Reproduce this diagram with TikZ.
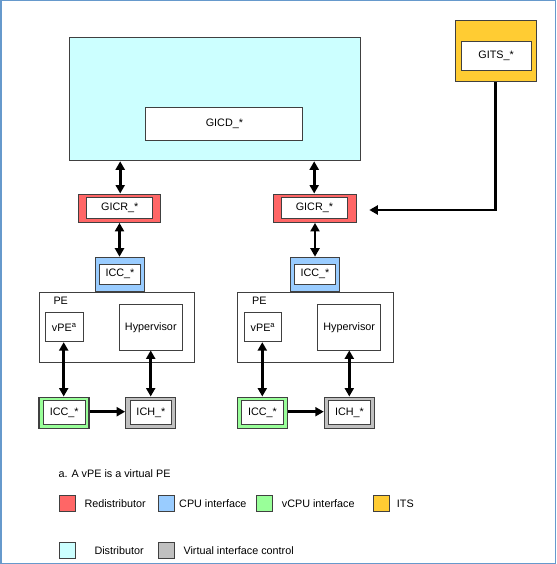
\documentclass[tikz,border=0pt]{standalone}
\usepackage{fontspec}
\setmainfont{Liberation Sans}
\usetikzlibrary{arrows.meta}
\definecolor{frameblue}{HTML}{6699CC}
\definecolor{redi}{HTML}{FF6666}
\definecolor{cpui}{HTML}{99CCFF}
\definecolor{vcpui}{HTML}{99FF99}
\definecolor{itsc}{HTML}{FFCC33}
\definecolor{dist}{HTML}{CCFFFF}
\definecolor{vic}{HTML}{C0C0C0}
\definecolor{edge}{HTML}{404040}
\tikzset{
  box/.style={draw=edge,line width=0.9pt,inner sep=0pt,font=\fontsize{10.8}{12}\selectfont},
  outerbox/.style={box,line width=1.1pt},
  innerbox/.style={box,fill=white},
  arr/.style={line width=2.6pt,-{Triangle[width=9pt,length=8.5pt]}},
  darr/.style={line width=2.6pt,{Triangle[width=9pt,length=8.5pt]}-{Triangle[width=9pt,length=8.5pt]}},
  legsq/.style={draw=edge,line width=0.9pt,minimum width=16pt,minimum height=16pt,inner sep=0pt},
  legtxt/.style={anchor=west,inner sep=0pt,font=\fontsize{10.8}{12}\selectfont},
}
\begin{document}
\begin{tikzpicture}[x=1pt,y=-1pt]
\useasboundingbox (0,0) rectangle (556,564);
\draw[frameblue,line width=1.5pt] (0.75,0.75) rectangle (555.25,563.25);

% Distributor
\node[outerbox,fill=dist,minimum width=291pt,minimum height=123.5pt] (dist) at (215,99) {};
\node[innerbox,minimum width=157pt,minimum height=33pt] (gicd) at (224.4,123.8) {GICD\_*};

% ITS
\node[outerbox,fill=itsc,minimum width=81pt,minimum height=61pt] (gits) at (496.3,51.3) {};
\node[innerbox,minimum width=70pt,minimum height=29pt] (gitsi) at (496.1,55.8) {GITS\_*};

% Left column
\node[outerbox,fill=redi,minimum width=82.4pt,minimum height=28.3pt] (gicrL) at (119.5,208.2) {};
\node[innerbox,minimum width=66pt,minimum height=21pt] at (119.8,207.8) {GICR\_*};
\node[outerbox,fill=cpui,minimum width=49pt,minimum height=34.7pt] (iccL) at (119.7,274.6) {};
\node[innerbox,minimum width=41.4pt,minimum height=20.3pt] at (120,274.2) {ICC\_*};
\node[box,fill=white,minimum width=155.7pt,minimum height=70.3pt] (peL) at (116.8,327.1) {};
\node[anchor=base west,inner sep=0pt,font=\fontsize{10.8}{12}\selectfont] (peLt) at (53.3,304.3) {PE};
\node[box,fill=white,minimum width=38.3pt,minimum height=29.4pt] (vpeL) at (64.2,327) {vPE\textsuperscript{a}};
\node[box,fill=white,minimum width=63pt,minimum height=45.3pt] (hypL) at (150.8,327.3) {Hypervisor};
\node[outerbox,fill=vcpui,minimum width=50pt,minimum height=31.3pt] (gccL) at (64,412.7) {};
\node[innerbox,minimum width=41.7pt,minimum height=23.3pt] at (64.2,412.3) {ICC\_*};
\node[outerbox,fill=vic,minimum width=50pt,minimum height=31.3pt] (ichL) at (150.7,412.7) {};
\node[innerbox,minimum width=41.7pt,minimum height=23.3pt] at (150.9,412.3) {ICH\_*};

% Right column
\node[outerbox,fill=redi,minimum width=82.4pt,minimum height=28.3pt] (gicrR) at (315,208.2) {};
\node[innerbox,minimum width=66pt,minimum height=21pt] at (314.4,207.8) {GICR\_*};
\node[outerbox,fill=cpui,minimum width=49pt,minimum height=34.7pt] (iccR) at (314.7,274.6) {};
\node[innerbox,minimum width=41.4pt,minimum height=20.3pt] at (315,274.2) {ICC\_*};
\node[box,fill=white,minimum width=156pt,minimum height=70.3pt] (peR) at (315.3,327.1) {};
\node[anchor=base west,inner sep=0pt,font=\fontsize{10.8}{12}\selectfont] (peRt) at (252,304.3) {PE};
\node[box,fill=white,minimum width=37.7pt,minimum height=29.4pt] (vpeR) at (262.9,327) {vPE\textsuperscript{a}};
\node[box,fill=white,minimum width=63pt,minimum height=45.3pt] (hypR) at (349.2,327.3) {Hypervisor};
\node[outerbox,fill=vcpui,minimum width=50pt,minimum height=31.3pt] (gccR) at (262.3,412.7) {};
\node[innerbox,minimum width=41.7pt,minimum height=23.3pt] at (262.5,412.3) {ICC\_*};
\node[outerbox,fill=vic,minimum width=50pt,minimum height=31.3pt] (ichR) at (349.3,412.7) {};
\node[innerbox,minimum width=41.7pt,minimum height=23.3pt] at (349.5,412.3) {ICH\_*};

% Connectors
\draw[darr] (dist.south -| 120.2,0) -- (gicrL.north -| 120.2,0);
\draw[darr] (dist.south -| 314.2,0) -- (gicrR.north -| 314.2,0);
\draw[darr] (gicrL.south -| 119.5,0) -- (iccL.north -| 119.5,0);
\draw[darr] (gicrR.south -| 315,0) -- (iccR.north -| 315,0);
\draw[darr] (vpeL.south -| 63.7,0) -- (gccL.north -| 63.7,0);
\draw[darr] (hypL.south -| 150.7,0) -- (ichL.north -| 150.7,0);
\draw[darr] (vpeR.south -| 262.3,0) -- (gccR.north -| 262.3,0);
\draw[darr] (hypR.south -| 349.3,0) -- (ichR.north -| 349.3,0);
\draw[arr] (gccL.east |- 0,411.7) -- (ichL.west |- 0,411.7);
\draw[arr] (gccR.east |- 0,411.7) -- (ichR.west |- 0,411.7);
\coordinate (itsend) at (369.3,210);
\draw[arr] (gits.south -| 495.7,0) |- (itsend);

% Footnote and legend
\node[legtxt] (fn) at (58.3,474) {a. A vPE is a virtual PE};
\node[legsq,fill=redi] (l1) at (67.3,503.3) {};
\node[legtxt] (l1t) at (84.3,503.3) {Redistributor};
\node[legsq,fill=cpui] (l2) at (166.7,503.3) {};
\node[legtxt] (l2t) at (179,503.3) {CPU interface};
\node[legsq,fill=vcpui] (l3) at (264.7,503.3) {};
\node[legtxt] (l3t) at (281.7,503.3) {vCPU interface};
\node[legsq,fill=itsc] (l4) at (381,503.3) {};
\node[legtxt] (l4t) at (396.7,503.3) {ITS};
\node[legsq,fill=dist] (l5) at (67.3,550.5) {};
\node[legtxt] (l5t) at (94.3,550.5) {Distributor};
\node[legsq,fill=vic] (l6) at (166.7,550.5) {};
\node[legtxt] (l6t) at (183.3,550.5) {Virtual interface control};
\end{tikzpicture}
\end{document}
